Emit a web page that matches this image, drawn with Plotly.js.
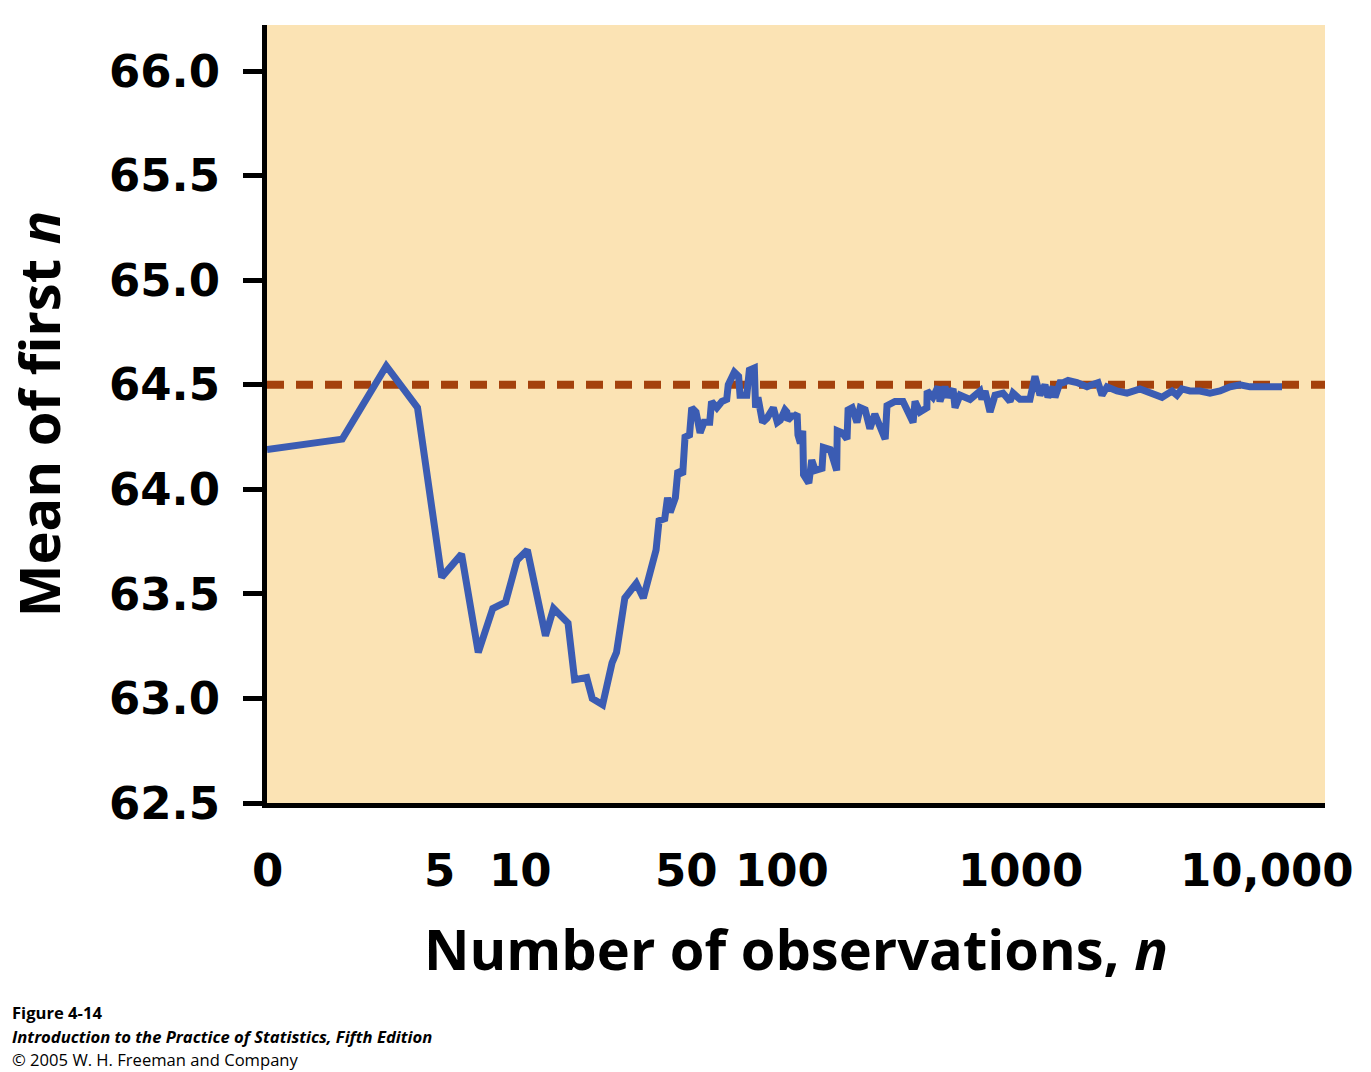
<!DOCTYPE html>
<html>
<head>
<meta charset="utf-8">
<script src="https://cdn.plot.ly/plotly-3.0.1.min.js"></script>
<style>
  html, body { margin: 0; padding: 0; background: #ffffff; }
  #chart { width: 1371px; height: 1072px; }
</style>
</head>
<body>
<div id="chart"></div>
<script>
// Number of observations n (log scale; the first observation is labelled "0")
const observations = [1,2,3,4,5,6,7,8,9,10,11,
  13,14,16,17,19,20,22,24,25,27,
  30,32,36,37,39,40,41,43,44,46,
  47,49,50,52,54,56,59,60,63,66,
  69,70,74,77,78,83,85,89,90,92,
  96,100,106,110,113,118,120,121,126,129,
  132,133,136,139,140,147,151,156,166,168,
  179,190,191,200,209,211,219,229,236,247,
  258,270,283,297,302,325,350,366,384,391,
  409,436,437,461,483,492,515,530,555,565,
  592,649,711,724,745,780,817,879,938,964,
  1028,1127,1180,1236,1294,1330,1393,1419,1486,1528,
  1600,1738,1905,1995,2109,2188,2291,2512,2754,3105,
  3404,3802,4169,4365,4571,4920,5395,5916,6486,7112,
  7798,8551,9376,10280,11482];

// Mean of the first n observations
const runningMean = [64.19,64.24,64.59,64.39,63.58,63.69,63.22,63.43,63.46,63.66,63.71,
  63.30,63.43,63.36,63.09,63.10,63.00,62.97,63.17,63.22,63.48,
  63.55,63.48,63.71,63.85,63.86,63.96,63.89,63.96,64.09,64.07,
  64.25,64.26,64.39,64.37,64.27,64.32,64.32,64.42,64.39,64.42,
  64.43,64.50,64.56,64.54,64.45,64.45,64.57,64.58,64.39,64.44,
  64.32,64.34,64.39,64.32,64.33,64.38,64.37,64.33,64.35,64.35,
  64.36,64.26,64.22,64.28,64.07,64.03,64.14,64.09,64.10,64.20,
  64.19,64.09,64.28,64.27,64.24,64.38,64.39,64.32,64.39,64.38,
  64.29,64.36,64.29,64.24,64.40,64.42,64.42,64.37,64.32,64.42,
  64.37,64.39,64.47,64.44,64.49,64.42,64.49,64.44,64.48,64.39,
  64.45,64.43,64.47,64.43,64.47,64.37,64.45,64.46,64.42,64.46,
  64.43,64.43,64.54,64.45,64.50,64.44,64.49,64.44,64.51,64.51,
  64.52,64.51,64.49,64.50,64.51,64.45,64.49,64.47,64.46,64.48,
  64.46,64.44,64.47,64.45,64.48,64.47,64.47,64.46,64.47,64.49,
  64.50,64.49,64.49,64.49,64.49];

const populationMean = 64.5;

const xTickValues = [1, 5, 10, 50, 100, 1000, 10000];
const xTickLabels = ["0", "5", "10", "50", "100", "1000", "10,000"];
const yTickValues = [62.5, 63.0, 63.5, 64.0, 64.5, 65.0, 65.5, 66.0];
const yTickLabels = ["62.5", "63.0", "63.5", "64.0", "64.5", "65.0", "65.5", "66.0"];

// style: small horizontal nudges of the x tick labels (pixels), as in the original artwork
const xLabelNudge = [0, -2, 3, -5, 15, 3, 0];

const tickFont = { family: "DejaVu Sans", size: 45, color: "#000000", weight: "bold" };
const titleFont = { family: "Open Sans", size: 56, color: "#000000", weight: "bold" };
const captionFont = { family: "Open Sans", size: 16.6, color: "#000000" };

const traces = [{
  type: "scatter",
  mode: "lines",
  x: observations,
  y: runningMean,
  line: { color: "#3b5cb3", width: 7 },
  hoverinfo: "skip",
  showlegend: false
}];

function pxX(px) { return (px - 267) / (1371 - 267 - 46); }
function pxY(py) { return (1072 - 269 - py) / (1072 - 269 - 25); }

const xLabelAnnotations = xTickValues.map((v, i) => ({
  text: xTickLabels[i],
  xref: "x", yref: "paper",
  x: Math.log10(v), y: pxY(870),
  xanchor: "center", yanchor: "middle",
  xshift: xLabelNudge[i],
  showarrow: false,
  font: tickFont
}));

const layout = {
  width: 1371,
  height: 1072,
  margin: { l: 267, r: 46, t: 25, b: 269 },
  paper_bgcolor: "#ffffff",
  plot_bgcolor: "#fbe3b4",
  showlegend: false,
  xaxis: {
    type: "log",
    range: [0, 4.232],
    tickmode: "array",
    tickvals: xTickValues,
    showticklabels: false,
    ticks: "",
    showgrid: false,
    zeroline: false,
    showline: true,
    linecolor: "#000000",
    linewidth: 5,
    title: { text: "Number of observations, <i>n</i>", font: titleFont, standoff: 125 }
  },
  yaxis: {
    range: [62.5, 66.22],
    tickmode: "array",
    tickvals: yTickValues,
    ticktext: yTickLabels,
    ticks: "outside",
    ticklen: 19,
    tickwidth: 5,
    tickcolor: "#000000",
    ticklabelstandoff: 14,
    tickfont: tickFont,
    showgrid: false,
    zeroline: false,
    showline: true,
    linecolor: "#000000",
    linewidth: 5,
    title: { text: "Mean of first <i>n</i>", font: titleFont, standoff: 32 }
  },
  shapes: [{
    type: "line",
    xref: "paper", x0: 0, x1: 1,
    yref: "y", y0: populationMean, y1: populationMean,
    line: { color: "#a4410c", width: 8, dash: "17px,12px" },
    layer: "below"
  }],
  annotations: xLabelAnnotations.concat([
    { text: "<b>Figure 4-14</b>", xref: "paper", yref: "paper", x: pxX(10), y: pxY(1013), xanchor: "left", yanchor: "middle",
      showarrow: false, font: captionFont },
    { text: "<b><i>Introduction to the Practice of Statistics, Fifth Edition</i></b>", xref: "paper", yref: "paper", x: pxX(10), y: pxY(1036), xanchor: "left", yanchor: "middle",
      showarrow: false, font: captionFont },
    { text: "© 2005 W. H. Freeman and Company", xref: "paper", yref: "paper", x: pxX(10), y: pxY(1059), xanchor: "left", yanchor: "middle",
      showarrow: false, font: captionFont }
  ])
};

Plotly.newPlot("chart", traces, layout, { displayModeBar: false, staticPlot: true });
</script>
</body>
</html>
